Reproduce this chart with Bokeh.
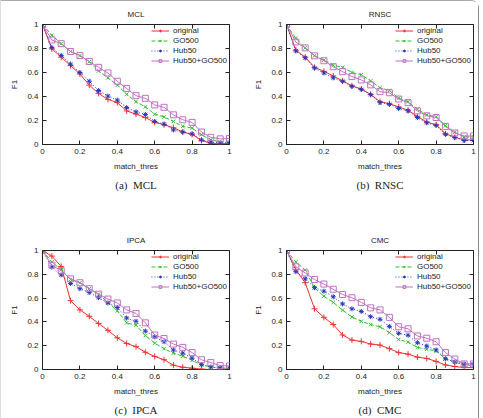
from bokeh.plotting import figure
from bokeh.models import Range1d, LinearAxis, FixedTicker, Title, Legend, LegendItem
from bokeh.layouts import column, row
from bokeh.embed import file_html
from bokeh.resources import INLINE

match_thres = [0.0, 0.05, 0.1, 0.15, 0.2, 0.25, 0.3, 0.35, 0.4, 0.45, 0.5,
               0.55, 0.6, 0.65, 0.7, 0.75, 0.8, 0.85, 0.9, 0.95, 1.0]
series_names = ["original", "GO500", "Hub50", "Hub50+GO500"]
tick_values = [0, 0.2, 0.4, 0.6, 0.8, 1]
tick_labels = {0: "0", 0.2: "0.2", 0.4: "0.4", 0.6: "0.6", 0.8: "0.8", 1: "1"}

mcl_original = [1.0, 0.797, 0.728, 0.657, 0.588, 0.495, 0.426, 0.376, 0.349, 0.28, 0.253,
                0.225, 0.184, 0.165, 0.14, 0.104, 0.085, 0.033, 0.011, 0.005, 0.011]
mcl_go500 = [1.0, 0.91, 0.84, 0.775, 0.74, 0.69, 0.613, 0.555, 0.495, 0.418, 0.357,
             0.313, 0.253, 0.23, 0.192, 0.151, 0.137, 0.082, 0.04, 0.02, 0.022]
mcl_hub50 = [1.0, 0.808, 0.742, 0.67, 0.6, 0.527, 0.45, 0.404, 0.37, 0.308, 0.272,
             0.25, 0.192, 0.17, 0.121, 0.104, 0.088, 0.038, 0.02, 0.014, 0.016]
mcl_hub50_go500 = [1.0, 0.871, 0.84, 0.775, 0.742, 0.692, 0.643, 0.596, 0.527, 0.467, 0.407,
                   0.385, 0.33, 0.31, 0.247, 0.206, 0.184, 0.104, 0.06, 0.047, 0.05]

rnsc_original = [1.0, 0.786, 0.728, 0.643, 0.61, 0.571, 0.53, 0.489, 0.462, 0.418, 0.357,
                 0.34, 0.313, 0.286, 0.234, 0.187, 0.165, 0.09, 0.06, 0.038, 0.038]
rnsc_go500 = [1.0, 0.885, 0.805, 0.74, 0.703, 0.66, 0.643, 0.6, 0.582, 0.53, 0.473,
              0.45, 0.387, 0.357, 0.294, 0.247, 0.231, 0.157, 0.102, 0.063, 0.063]
rnsc_hub50 = [1.0, 0.78, 0.722, 0.637, 0.596, 0.555, 0.527, 0.484, 0.459, 0.415, 0.349,
              0.335, 0.3, 0.28, 0.225, 0.181, 0.159, 0.085, 0.058, 0.033, 0.033]
rnsc_hub50_go500 = [1.0, 0.854, 0.805, 0.739, 0.698, 0.648, 0.607, 0.566, 0.538, 0.497, 0.44,
                    0.431, 0.379, 0.349, 0.28, 0.239, 0.225, 0.151, 0.096, 0.071, 0.071]

ipca_original = [1.0, 0.953, 0.866, 0.578, 0.501, 0.447, 0.386, 0.329, 0.266, 0.219, 0.192,
                 0.145, 0.11, 0.082, 0.036, 0.019, 0.011, 0.003, 0.0, 0.0, 0.0]
ipca_go500 = [1.0, 0.904, 0.838, 0.756, 0.729, 0.679, 0.633, 0.564, 0.493, 0.392, 0.373,
              0.285, 0.222, 0.175, 0.137, 0.112, 0.077, 0.038, 0.022, 0.011, 0.011]
ipca_hub50 = [1.0, 0.86, 0.795, 0.723, 0.679, 0.647, 0.603, 0.559, 0.521, 0.433, 0.405,
              0.323, 0.274, 0.233, 0.164, 0.137, 0.096, 0.041, 0.022, 0.014, 0.011]
ipca_hub50_go500 = [1.0, 0.877, 0.83, 0.762, 0.729, 0.679, 0.633, 0.592, 0.559, 0.501, 0.471,
                    0.392, 0.29, 0.26, 0.214, 0.186, 0.142, 0.082, 0.058, 0.033, 0.03]

cmc_original = [1.0, 0.838, 0.729, 0.51, 0.438, 0.378, 0.29, 0.247, 0.236, 0.214, 0.205,
                0.175, 0.142, 0.129, 0.104, 0.093, 0.068, 0.038, 0.025, 0.016, 0.016]
cmc_go500 = [1.0, 0.904, 0.836, 0.685, 0.616, 0.564, 0.499, 0.441, 0.405, 0.378, 0.359,
             0.31, 0.252, 0.23, 0.186, 0.17, 0.156, 0.09, 0.063, 0.036, 0.036]
cmc_hub50 = [1.0, 0.822, 0.762, 0.688, 0.658, 0.611, 0.551, 0.51, 0.488, 0.444, 0.422,
             0.362, 0.304, 0.288, 0.225, 0.197, 0.164, 0.09, 0.063, 0.047, 0.047]
cmc_hub50_go500 = [1.0, 0.863, 0.811, 0.756, 0.718, 0.674, 0.63, 0.603, 0.564, 0.518, 0.501,
                   0.438, 0.359, 0.342, 0.282, 0.263, 0.233, 0.142, 0.088, 0.047, 0.047]

NB = "\u00a0"
panels = [
    ("MCL", "(a)" + NB + NB + "MCL", [mcl_original, mcl_go500, mcl_hub50, mcl_hub50_go500]),
    ("RNSC", "(b)" + NB + NB + "RNSC", [rnsc_original, rnsc_go500, rnsc_hub50, rnsc_hub50_go500]),
    ("IPCA", "(c)" + NB + NB + "IPCA", [ipca_original, ipca_go500, ipca_hub50, ipca_hub50_go500]),
    ("CMC", "(d)" + NB + NB + "CMC", [cmc_original, cmc_go500, cmc_hub50, cmc_hub50_go500]),
]

styles = [
    dict(color="#f03030", dash="solid", marker="cross", size=6),
    dict(color="#30c030", dash="4 2", marker="x", size=5),
    dict(color="#2838c0", dash="1 2", marker="asterisk", size=5),
    dict(color="#c070c0", dash="solid", marker="square", size=6),
]

SANS = "Liberation Sans"
SERIF = "Liberation Serif"

# geometry per panel: (width, height, left, right, top, bottom)
geom = [
    (240, 208, 41, 12, 22, 65),
    (237, 208, 45, 5, 22, 65),
    (240, 209, 41, 12, 41, 46),
    (237, 209, 45, 5, 41, 46),
]


def make_panel(title, caption, ys, g):
    w, h, bl, br, bt, bb = g
    p = figure(width=w, height=h, output_backend="svg", toolbar_location=None,
               x_range=Range1d(0, 1), y_range=Range1d(0, 1),
               min_border_left=bl, min_border_right=br,
               min_border_top=bt, min_border_bottom=bb)
    p.title.text = title
    p.title.align = "center"
    p.title.text_font = SANS
    p.title.text_font_size = "8px"
    p.title.text_font_style = "normal"
    p.title.text_color = "#222222"
    p.title.standoff = 12
    p.grid.visible = False
    p.outline_line_color = "#222222"
    p.outline_line_width = 1
    p.background_fill_color = "white"
    p.border_fill_color = "white"

    for ax in (p.xaxis[0], p.yaxis[0]):
        ax.ticker = FixedTicker(ticks=tick_values)
        ax.major_label_overrides = tick_labels
        ax.major_tick_in = 4
        ax.major_tick_out = 0
        ax.minor_tick_line_color = None
        ax.axis_line_color = None
        ax.major_tick_line_color = "#222222"
        ax.major_label_text_font = SANS
        ax.major_label_text_font_size = "8px"
        ax.major_label_text_color = "#222222"
        ax.axis_label_text_font = SANS
        ax.axis_label_text_font_size = "8px"
        ax.axis_label_text_font_style = "normal"
        ax.axis_label_text_color = "#222222"
        ax.major_label_standoff = 4
        ax.axis_label_standoff = 5
    p.xaxis.axis_label = "match_thres"
    p.yaxis.axis_label = "F1"

    for loc in ("above", "right"):
        ax = LinearAxis(ticker=FixedTicker(ticks=tick_values),
                        major_tick_in=4, major_tick_out=0,
                        minor_tick_line_color=None, axis_line_color=None,
                        major_tick_line_color="#222222",
                        major_label_overrides={t: "" for t in tick_values},
                        major_label_text_font_size="8px", major_label_standoff=0)
        p.add_layout(ax, loc)

    items = []
    for name, y, st in zip(series_names, ys, styles):
        r1 = p.line(match_thres, y, line_color=st["color"], line_width=1,
                    line_dash=st["dash"])
        r2 = p.scatter(match_thres, y, marker=st["marker"], size=st["size"],
                       line_color=st["color"], fill_color=None, line_width=1)
        items.append(LegendItem(label=name, renderers=[r1, r2]))
    leg = Legend(items=items, location="top_right",
                 background_fill_alpha=0, border_line_color=None,
                 label_text_font=SANS, label_text_font_size="8px",
                 label_text_color="#222222",
                 glyph_width=18, glyph_height=7, label_height=7,
                 spacing=1, padding=1, margin=2, label_standoff=4)
    p.add_layout(leg, "center")

    cap = Title(text=caption, align="center", text_font=SERIF,
                text_font_size="11px", text_font_style="normal",
                text_color="#222222", standoff=6)
    p.add_layout(cap, "below")
    return p


figs = [make_panel(t, c, ys, g) for (t, c, ys), g in zip(panels, geom)]

layout = column(row(figs[0], figs[1]), row(figs[2], figs[3]),
                styles={"border-top": "1px solid #aaaaaa",
                        "border-left": "1px solid #dddddd",
                        "border-right": "1px solid #888888",
                        "border-top-right-radius": "8px"})

open("out.html", "w").write(file_html(layout, INLINE))
